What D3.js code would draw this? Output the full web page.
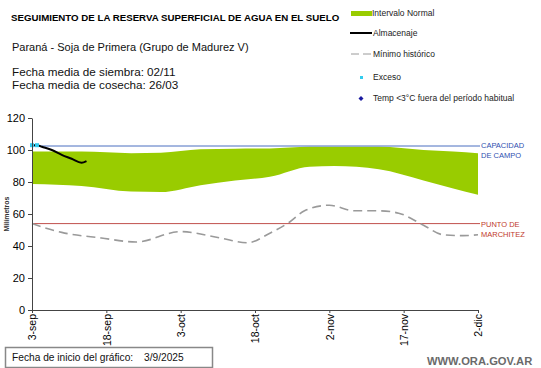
<html>
<head>
<meta charset="utf-8">
<script src="https://d3js.org/d3.v7.min.js"></script>
<style>
  body { margin: 0; background: #fff; }
  text { font-family: Arial, "Liberation Sans", sans-serif; }
</style>
</head>
<body>
<div id="container"></div>
<script>
// días desde el 3-sep-2025
const tickDays = [0, 15, 30, 45, 60, 75, 90]
const tickLabels = ['3-sep', '18-sep', '3-oct', '18-oct', '2-nov', '17-nov', '2-dic']
const yTicks = [0, 20, 40, 60, 80, 100, 120]

// intervalo normal
const bandDays  = [0, 10, 20, 26, 34, 41, 48, 56, 61, 70, 79, 85, 90]
const bandUpper = [99, 99, 98, 98.3, 100.4, 100.8, 101, 102, 102, 102, 100, 99, 98]
const bandLower = [78.8, 77.5, 74, 73.7, 78, 81, 83.3, 89.6, 90, 88, 81, 76, 72]

// almacenaje
const almDays = [0, 1, 2, 4, 6, 8, 10, 11]
const almVals = [103, 103, 102, 100, 97, 94.5, 92, 93]

// exceso
const excDays = [0, 1]
const excVals = [103, 103]

// mínimo histórico
const minDays = [0, 6, 14, 21, 30, 38, 43.5, 48, 52, 55, 60, 65, 70, 74, 79, 83, 87, 90]
const minVals = [54, 48.5, 45, 42.5, 49, 45, 42, 48, 55, 62, 65.5, 62, 62, 60.5, 53, 47, 46.5, 47]

const capacidad = 102.5
const marchitez = 54

const W = 541, H = 368
const svg = d3.select('#container').append('svg')
    .attr('width', W).attr('height', H)

const x = d3.scaleLinear().domain([0, 90]).range([32, 478])
const y = d3.scaleLinear().domain([0, 120]).range([310, 118])

// band
const band = bandDays.map((d, i) => ({ d, hi: bandUpper[i], lo: bandLower[i] }))
svg.append('path')
    .datum(band)
    .attr('fill', '#99cc00')
    .attr('d', d3.area().curve(d3.curveMonotoneX)
        .x(d => x(d.d)).y0(d => y(d.lo)).y1(d => y(d.hi)))

// reference lines
svg.append('line')
    .attr('x1', x(0)).attr('x2', 480)
    .attr('y1', y(capacidad)).attr('y2', y(capacidad))
    .attr('stroke', '#4a6fc0').attr('stroke-width', 1)
svg.append('line')
    .attr('x1', x(0)).attr('x2', 480)
    .attr('y1', y(marchitez)).attr('y2', y(marchitez))
    .attr('stroke', '#c0504d').attr('stroke-width', 1)

const refLabel = (lines, yy, color) => {
    const t = svg.append('text')
        .attr('x', 481).attr('y', yy)
        .attr('font-size', 7.5).attr('fill', color)
    lines.forEach((l, i) => t.append('tspan').attr('x', 481).attr('dy', i ? 10 : 0).text(l))
}
refLabel(['CAPACIDAD', 'DE  CAMPO'], y(capacidad) + 2, '#2f50b0')
refLabel(['PUNTO  DE', 'MARCHITEZ'], y(marchitez) + 3, '#c0392b')

// mínimo histórico
svg.append('path')
    .datum(minDays.map((d, i) => ({ d, v: minVals[i] })))
    .attr('fill', 'none')
    .attr('stroke', '#9a9a9a')
    .attr('stroke-width', 1.6)
    .attr('stroke-dasharray', '9,5')
    .attr('d', d3.line().curve(d3.curveMonotoneX).x(d => x(d.d)).y(d => y(d.v)))

// almacenaje
svg.append('path')
    .datum(almDays.map((d, i) => ({ d, v: almVals[i] })))
    .attr('fill', 'none')
    .attr('stroke', '#000')
    .attr('stroke-width', 2)
    .attr('d', d3.line().curve(d3.curveMonotoneX).x(d => x(d.d)).y(d => y(d.v)))

// exceso
svg.selectAll('rect.exc')
    .data(excDays.map((d, i) => ({ d, v: excVals[i] })))
    .enter().append('rect')
    .attr('class', 'exc')
    .attr('x', d => x(d.d) - 2).attr('y', d => y(d.v) - 2)
    .attr('width', 4).attr('height', 4)
    .attr('fill', '#33ccee')

// axes
const yAxis = svg.append('g')
    .attr('transform', `translate(${x(0)},0)`)
    .call(d3.axisLeft(y).tickValues(yTicks).tickSize(4).tickSizeOuter(0))
yAxis.select('.domain').attr('stroke', '#444')
yAxis.selectAll('.tick line').attr('stroke', '#444')
yAxis.selectAll('.tick text').attr('font-size', 11).attr('fill', '#000')
    .attr('font-family', 'Arial, "Liberation Sans", sans-serif')

const xAxis = svg.append('g')
    .attr('transform', `translate(0,${y(0)})`)
    .call(d3.axisBottom(x).tickValues(tickDays).tickSize(3).tickSizeOuter(0)
        .tickFormat((d, i) => tickLabels[i]))
xAxis.select('.domain').attr('stroke', '#444')
xAxis.selectAll('.tick line').attr('stroke', '#444')
xAxis.selectAll('.tick text')
    .attr('font-size', 10.5).attr('fill', '#000')
    .attr('font-family', 'Arial, "Liberation Sans", sans-serif')
    .attr('transform', 'rotate(-90)')
    .attr('text-anchor', 'end')
    .attr('x', -4).attr('y', 0).attr('dy', '0.35em')

svg.append('text')
    .attr('transform', 'translate(9,214) rotate(-90)')
    .attr('text-anchor', 'middle')
    .attr('font-size', 7).attr('font-weight', 'bold').attr('fill', '#333')
    .text('Milímetros')

// titles
svg.append('text').attr('x', 11).attr('y', 21)
    .attr('font-size', 9.7).attr('font-weight', 'bold')
    .text('SEGUIMIENTO DE LA RESERVA SUPERFICIAL DE AGUA EN EL SUELO')
svg.append('text').attr('x', 12).attr('y', 51)
    .attr('font-size', 11).attr('fill', '#111')
    .text('Paraná - Soja de Primera (Grupo de Madurez V)')
svg.append('text').attr('x', 12).attr('y', 76)
    .attr('font-size', 11.7).attr('fill', '#111')
    .text('Fecha media de siembra: 02/11')
svg.append('text').attr('x', 12).attr('y', 89)
    .attr('font-size', 11.7).attr('fill', '#111')
    .text('Fecha media de cosecha: 26/03')

// legend
const lg = svg.append('g').attr('font-size', 8.5).attr('fill', '#222')
lg.append('rect').attr('x', 351).attr('y', 11).attr('width', 21).attr('height', 5).attr('fill', '#99cc00')
lg.append('text').attr('x', 372).attr('y', 16).text('Intervalo Normal')
lg.append('line').attr('x1', 350).attr('x2', 372).attr('y1', 33).attr('y2', 33)
    .attr('stroke', '#000').attr('stroke-width', 2)
lg.append('text').attr('x', 373).attr('y', 36).text('Almacenaje')
lg.append('line').attr('x1', 351).attr('x2', 371).attr('y1', 54).attr('y2', 54)
    .attr('stroke', '#9a9a9a').attr('stroke-width', 1).attr('stroke-dasharray', '8,4')
lg.append('text').attr('x', 373).attr('y', 57).text('Mínimo histórico')
lg.append('rect').attr('x', 360).attr('y', 76).attr('width', 3).attr('height', 3).attr('fill', '#33ccee')
lg.append('text').attr('x', 373).attr('y', 80).text('Exceso')
lg.append('path').attr('d', 'M361,96 L363.5,98.5 L361,101 L358.5,98.5 Z').attr('fill', '#1a1aa0')
lg.append('text').attr('x', 373).attr('y', 101).text('Temp <3°C fuera del período habitual')

// bottom box
svg.append('rect').attr('x', 5.5).attr('y', 347.5).attr('width', 207).attr('height', 20)
    .attr('fill', '#fff').attr('stroke', '#888').attr('stroke-width', 1.5)
svg.append('text').attr('x', 12).attr('y', 361)
    .attr('font-size', 10.2).attr('font-family', 'Lato, sans-serif').attr('fill', '#111')
    .text('Fecha de inicio del gráfico:')
svg.append('text').attr('x', 144).attr('y', 361)
    .attr('font-size', 10.2).attr('font-family', 'Lato, sans-serif').attr('fill', '#111')
    .text('3/9/2025')
svg.append('text').attr('x', 427).attr('y', 365)
    .attr('font-size', 11.2).attr('font-weight', 'bold').attr('fill', '#6a6a6a')
    .text('WWW.ORA.GOV.AR')
</script>
</body>
</html>
